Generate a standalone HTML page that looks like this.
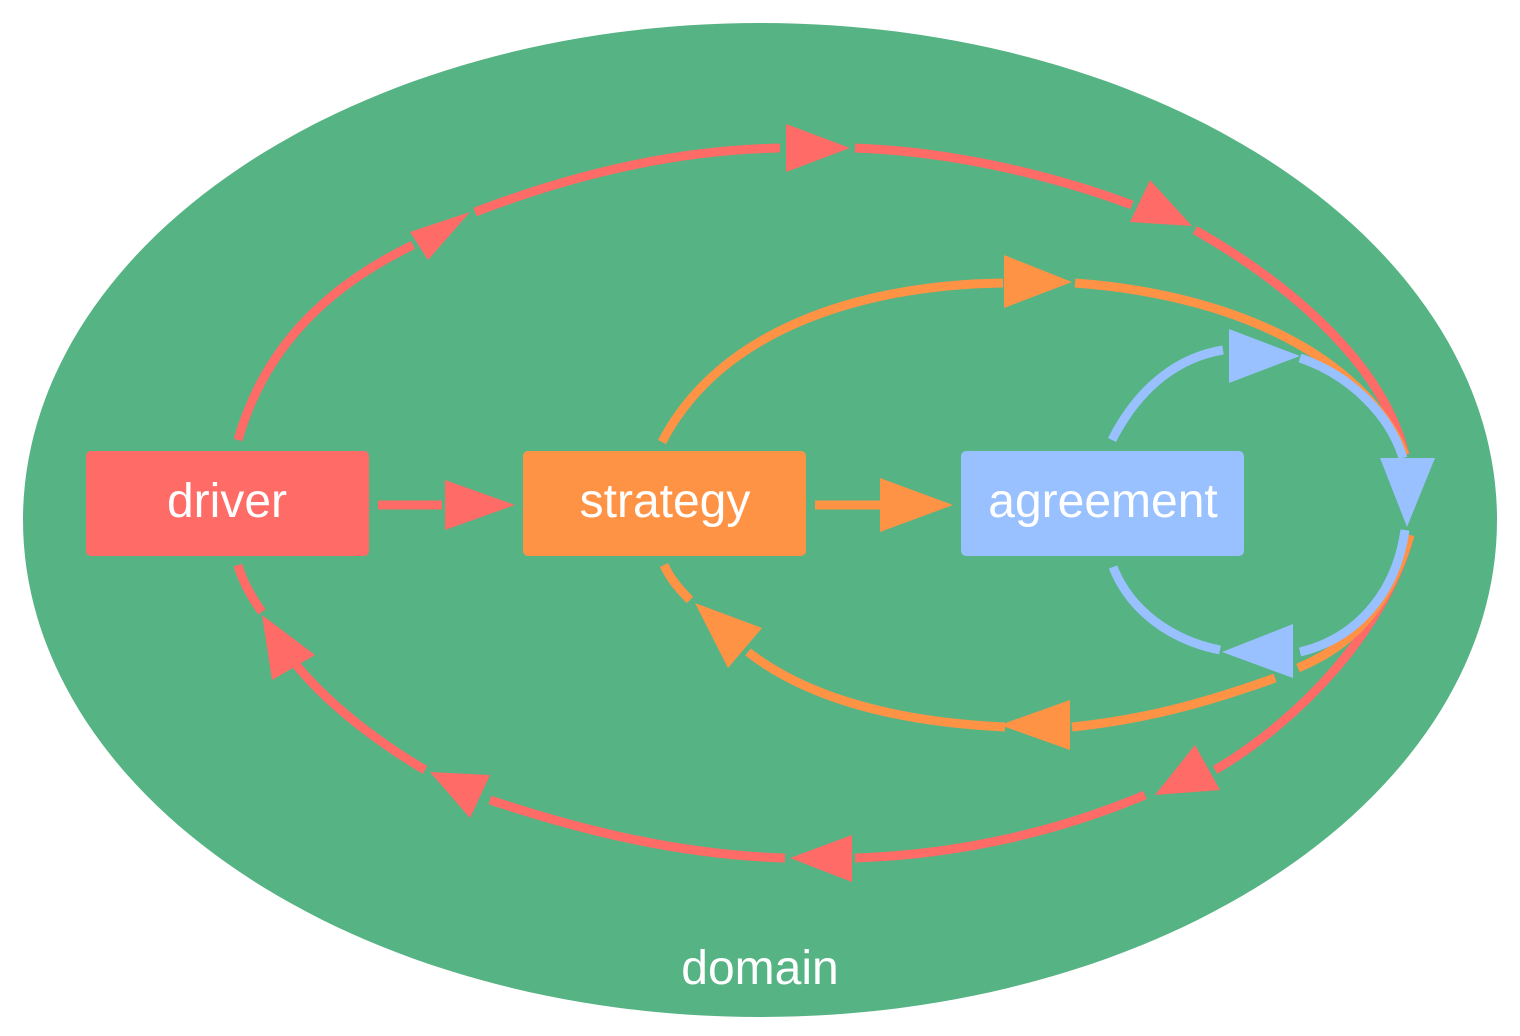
<!DOCTYPE html>
<html><head><meta charset="utf-8"><style>
html,body{margin:0;padding:0;background:#fff;}
svg{display:block;}
text{font-family:"Liberation Sans",sans-serif;fill:#fff;}
</style></head><body>
<svg width="1520" height="1036" viewBox="0 0 1520 1036">
<ellipse cx="760" cy="520" rx="737" ry="497" fill="#56b384"/>
<g fill="none" stroke-width="9">
<g stroke="#ff6b66">
<path d="M238,440 C265,345 330,285 413,245"/>
<path d="M475,212 C580,172 680,150 780,148"/>
<path d="M855,148 C960,152 1060,178 1132,205"/>
<path d="M1195,230 C1300,290 1385,370 1405,455"/>
<path d="M1410,535 C1385,630 1300,720 1215,770"/>
<path d="M1145,795 C1050,835 950,855 855,858"/>
<path d="M785,858 C680,855 580,830 490,800"/>
<path d="M425,770 C355,728 300,680 268,625"/>
<path d="M262,612 C250,595 242,580 238,565"/>
<path d="M378,505 L442,505"/>
</g>
<g stroke="#ff9345">
<path d="M662,442 C720,330 860,285 1003,283"/>
<path d="M1075,283 C1240,295 1365,360 1405,455"/>
<path d="M1410,535 C1385,620 1340,650 1298,668"/>
<path d="M1275,678 C1200,705 1140,720 1072,727"/>
<path d="M1005,727 C900,722 810,700 748,652"/>
<path d="M690,600 C678,588 670,578 664,565"/>
<path d="M815,505 L880,505"/>
</g>
<g stroke="#99c0ff">
<path d="M1112,440 C1140,385 1180,357 1223,350"/>
<path d="M1300,358 C1350,375 1390,415 1403,458"/>
<path d="M1405,530 C1395,600 1350,640 1300,652"/>
<path d="M1220,650 C1170,640 1130,610 1113,567"/>
</g>
</g>
<g fill="#ff6b66">
<polygon points="410,232 470,212 428,260"/>
<polygon points="786,124 850,148 786,172"/>
<polygon points="1150,180 1192,226 1130,222"/>
<polygon points="1195,745 1220,790 1155,795"/>
<polygon points="852,835 790,858 852,882"/>
<polygon points="490,775 470,818 430,772"/>
<polygon points="315,655 272,680 262,615"/>
<polygon points="445,480 515,505 445,530"/>
</g>
<g fill="#ff9345">
<polygon points="1004,255 1072,282 1004,308"/>
<polygon points="1070,700 1000,725 1070,750"/>
<polygon points="762,628 728,668 695,603"/>
<polygon points="880,478 953,505 880,532"/>
</g>
<g fill="#99c0ff">
<polygon points="1229,329 1300,356 1229,383"/>
<polygon points="1380,458 1435,458 1407,527"/>
<polygon points="1293,624 1293,678 1222,652"/>
</g>
<rect x="86" y="451" width="283" height="105" rx="5" fill="#ff6b66"/>
<rect x="523" y="451" width="283" height="105" rx="5" fill="#ff9345"/>
<rect x="961" y="451" width="283" height="105" rx="5" fill="#99c0ff"/>
<text x="227" y="517" font-size="48" text-anchor="middle">driver</text>
<text x="665" y="517" font-size="48" text-anchor="middle">strategy</text>
<text x="1103" y="517" font-size="48" text-anchor="middle">agreement</text>
<text x="760" y="984" font-size="48" text-anchor="middle">domain</text>
</svg>
</body></html>
